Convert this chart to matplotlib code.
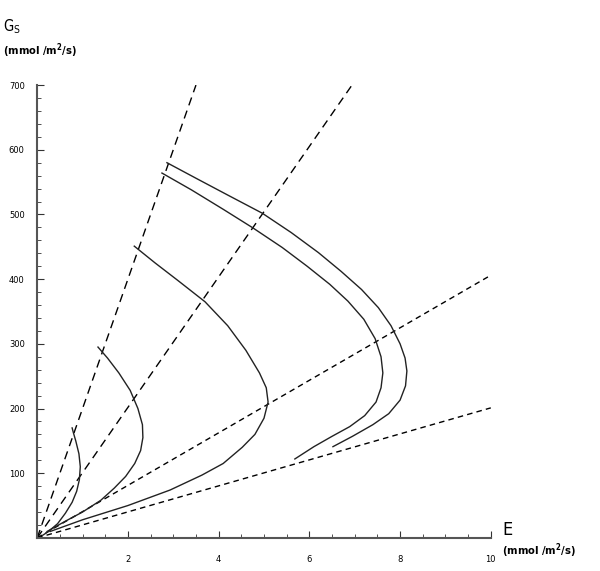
import matplotlib.pyplot as plt
from matplotlib.ticker import MultipleLocator

# dashed reference lines through the origin: (x_end, y_end)
ref_ends_x = [3.5, 6.94, 10.0, 10.0]
ref_ends_y = [700, 700, 406, 201]
ref_dash = [(6, 4), (6, 4), (4, 3), (4, 3)]

# solid C-shaped curves (E, Gs)
curve_a_x = [0.77, 0.80, 0.85, 0.92, 0.95, 0.93, 0.87, 0.77, 0.62, 0.45, 0.25, 0.12]
curve_a_y = [170, 162, 150, 130, 110, 90, 72, 55, 38, 22, 10, 4]

curve_b_x = [1.34, 1.55, 1.80, 2.05, 2.22, 2.32, 2.33, 2.28, 2.15, 1.95, 1.70, 1.40, 1.00, 0.60, 0.22]
curve_b_y = [295, 278, 255, 228, 200, 175, 155, 135, 115, 95, 77, 58, 40, 25, 10]

curve_c_x = [2.14, 2.6, 3.1, 3.7, 4.2, 4.6, 4.9, 5.05, 5.09, 5.0, 4.8, 4.52, 4.1, 3.63, 2.93, 2.0, 1.0, 0.29]
curve_c_y = [451, 425, 398, 365, 328, 290, 255, 232, 210, 185, 160, 140, 115, 97, 74, 50, 28, 10]

curve_d_x = [2.75, 3.4, 4.1, 4.76, 5.4, 5.95, 6.45, 6.85, 7.2, 7.45, 7.58, 7.62, 7.58, 7.47, 7.22, 6.89, 6.5, 6.1, 5.68]
curve_d_y = [564, 538, 508, 479, 449, 420, 392, 366, 338, 308, 280, 255, 232, 210, 189, 172, 157, 141, 122]

curve_e_x = [2.86, 3.5, 4.2, 4.96, 5.6, 6.2, 6.7, 7.15, 7.52, 7.8, 8.0, 8.11, 8.15, 8.12, 8.0, 7.75, 7.4, 6.95, 6.52]
curve_e_y = [580, 556, 530, 502, 472, 441, 412, 384, 356, 328, 300, 278, 258, 235, 213, 192, 175, 157, 141]

fig = plt.figure(figsize=(6.0, 5.71), dpi=100)
ax = fig.add_axes([0.062, 0.058, 0.756, 0.793])

for xe, ye, d in zip(ref_ends_x, ref_ends_y, ref_dash):
    ax.plot([0, xe], [0, ye], color='black', lw=1.0, dashes=d)

for cx, cy in [(curve_a_x, curve_a_y), (curve_b_x, curve_b_y), (curve_c_x, curve_c_y),
               (curve_d_x, curve_d_y), (curve_e_x, curve_e_y)]:
    ax.plot(cx, cy, color='#222222', lw=1.0)

ax.set_xlim(0, 10)
ax.set_ylim(0, 700)
ax.spines['top'].set_visible(False)
ax.spines['right'].set_visible(False)
for s in ['left', 'bottom']:
    ax.spines[s].set_color('#555555')
    ax.spines[s].set_linewidth(1.5)

ax.xaxis.set_major_locator(MultipleLocator(2))
ax.xaxis.set_minor_locator(MultipleLocator(0.5))
ax.yaxis.set_major_locator(MultipleLocator(100))
ax.yaxis.set_minor_locator(MultipleLocator(20))
ax.tick_params(which='both', direction='in', color='#333333')
ax.tick_params(which='major', length=5, labelsize=6)
ax.tick_params(axis='x', which='major', pad=12)
ax.tick_params(axis='y', which='major', pad=9)
ax.tick_params(which='minor', length=3)
ax.set_xticks([2, 4, 6, 8, 10])
ax.set_yticks([100, 200, 300, 400, 500, 600, 700])

fig.text(0.005, 0.953, 'G$_\\mathregular{S}$', fontsize=10.5, fontstretch='condensed', va='center')
fig.text(0.005, 0.912, '(mmol /m$^\\mathregular{2}$/s)', fontsize=8, fontweight='bold',
         fontstretch='condensed', va='center')
fig.text(0.837, 0.072, 'E', fontsize=13, fontstretch='condensed', va='center')
fig.text(0.837, 0.035, '(mmol /m$^\\mathregular{2}$/s)', fontsize=8, fontweight='bold',
         fontstretch='condensed', va='center')

fig.savefig('out.png', dpi=100)
